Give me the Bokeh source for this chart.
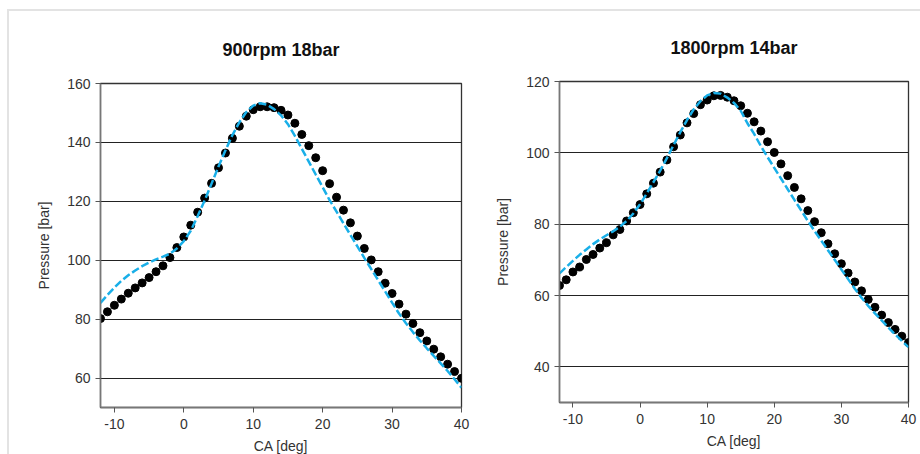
from bokeh.plotting import figure
from bokeh.layouts import row, column
from bokeh.models import FixedTicker, Title
from bokeh.embed import file_html
from bokeh.resources import INLINE

ca = [-12, -11, -10, -9, -8, -7, -6, -5, -4, -3, -2, -1, 0, 1, 2, 3, 4, 5, 6, 7, 8, 9,
      10, 11, 12, 13, 14, 15, 16, 17, 18, 19, 20, 21, 22, 23, 24, 25, 26, 27, 28, 29,
      30, 31, 32, 33, 34, 35, 36, 37, 38, 39, 40]

# 900rpm 18bar
meas_900 = [80.2, 82.5, 84.7, 86.8, 88.8, 90.6, 92.3, 94.1, 96.1, 98.1, 100.9, 104.3,
            107.9, 111.9, 116.3, 121.1, 126.1, 131.4, 136.4, 141.4, 145.5, 148.9,
            151.1, 152.1, 152.1, 151.8, 150.9, 149.3, 146.5, 142.7, 138.9, 134.8,
            130.4, 126.0, 121.4, 117.0, 112.7, 108.2, 104.0, 100.1, 96.1, 92.2,
            88.7, 85.1, 81.7, 78.5, 75.4, 72.6, 69.8, 67.2, 64.7, 62.2, 59.9]
sim_900 = [85.5, 88.2, 90.7, 93.0, 94.9, 96.5, 98.0, 99.2, 100.3, 101.2, 102.2, 104.0,
           106.5, 110.0, 115.0, 120.3, 126.0, 131.8, 137.3, 142.5, 146.8, 150.3,
           152.5, 153.3, 152.8, 151.3, 149.2, 146.2, 142.2, 137.8, 133.5, 129.1,
           124.8, 120.4, 116.5, 112.5, 108.6, 104.7, 100.8, 97.0, 93.2, 89.4,
           85.6, 81.9, 78.6, 75.6, 72.8, 70.1, 67.5, 65.0, 62.4, 59.6, 56.7]

# 1800rpm 14bar
meas_1800 = [62.8, 64.4, 66.6, 68.0, 70.1, 71.5, 73.3, 74.8, 77.0, 78.5, 80.9, 83.2,
             85.5, 88.5, 91.5, 94.6, 98.0, 101.7, 105.0, 108.4, 111.0, 113.5,
             114.8, 116.0, 116.1, 115.6, 114.6, 113.2, 111.1, 108.7, 106.1, 103.1,
             100.1, 96.9, 93.6, 90.3, 87.1, 83.8, 80.7, 77.6, 74.5, 71.7,
             68.9, 66.3, 63.8, 61.3, 58.9, 56.7, 54.5, 52.4, 50.5, 48.6, 46.8]
sim_1800 = [66.2, 68.0, 69.7, 71.4, 72.9, 74.4, 75.7, 76.9, 78.0, 79.3, 80.9, 83.0,
            85.6, 88.6, 91.8, 95.0, 98.5, 102.2, 105.8, 109.2, 112.2, 114.5,
            116.1, 116.8, 116.6, 115.5, 114.0, 111.8, 108.3, 105.3, 101.9, 98.8,
            95.8, 92.8, 89.8, 86.8, 83.9, 80.9, 78.1, 75.4, 72.7, 70.0,
            67.3, 64.6, 61.9, 59.4, 57.1, 55.0, 53.0, 51.0, 49.1, 47.3, 45.5]

x_ticks = [-10, 0, 10, 20, 30, 40]
x_labels = {-10: "-10", 0: "0", 10: "10", 20: "20", 30: "30", 40: "40"}
y_ticks_900 = [60, 80, 100, 120, 140, 160]
y_ticks_1800 = [40, 60, 80, 100, 120]

FONT = "Liberation Sans"


def make_plot(title, meas, sim, y_range, y_ticks, width, height, borders, standoff):
    left, right, top, bottom = borders
    p = figure(width=width, height=height, x_range=(-12, 40), y_range=y_range,
               output_backend="svg", toolbar_location=None,
               min_border_left=left, min_border_right=right,
               min_border_top=top, min_border_bottom=bottom)
    p.title = Title(text=title, align="center", text_font=FONT,
                    text_font_size="18px", text_font_style="bold",
                    text_color="#111111", standoff=standoff)
    p.background_fill_color = "white"
    p.border_fill_color = "white"
    p.outline_line_color = "#333333"
    p.outline_line_width = 1.3

    p.xgrid.grid_line_color = None
    p.ygrid.grid_line_color = "#222222"
    p.ygrid.grid_line_width = 1.1
    p.ygrid.ticker = FixedTicker(ticks=y_ticks)

    p.xaxis.ticker = FixedTicker(ticks=x_ticks)
    p.xaxis.major_label_overrides = x_labels
    p.yaxis.ticker = FixedTicker(ticks=y_ticks)
    for ax in (p.xaxis[0], p.yaxis[0]):
        ax.axis_line_color = "#777777"
        ax.axis_line_width = 1.5
        ax.major_tick_line_color = "#555555"
        ax.major_tick_in = 0
        ax.major_tick_out = 5
        ax.minor_tick_line_color = None
        ax.major_label_text_font = FONT
        ax.major_label_text_font_size = "14px"
        ax.major_label_text_color = "#333333"
        ax.axis_label_text_font = FONT
        ax.axis_label_text_font_size = "14px"
        ax.axis_label_text_font_style = "normal"
        ax.axis_label_text_color = "#333333"
    p.xaxis.axis_label = "CA [deg]"
    p.yaxis.axis_label = "Pressure [bar]"
    p.xaxis.major_label_standoff = 6
    p.xaxis.axis_label_standoff = 6
    p.yaxis.major_label_standoff = 5
    p.yaxis.axis_label_standoff = 12

    p.scatter(ca, meas, size=8, color="black")
    p.line(ca, sim, line_color="#19afe8", line_width=2.5, line_dash="8 3")
    return p


p1 = make_plot("900rpm 18bar", meas_900, sim_900, (50, 160), y_ticks_900,
               470, 450, (91, 18, 72, 54), 47)
p2 = make_plot("1800rpm 14bar", meas_1800, sim_1800, (30, 120), y_ticks_1800,
               441, 450, (80, 12, 70, 59), 48)

layout = row(column(p1), column(p2), margin=(9, 0, 0, 7), height=445,
             styles={"border-top": "2px solid #e3e3e3",
                     "border-left": "2px solid #e3e3e3",
                     "overflow": "hidden"})

open("out.html", "w").write(file_html(layout, INLINE))
